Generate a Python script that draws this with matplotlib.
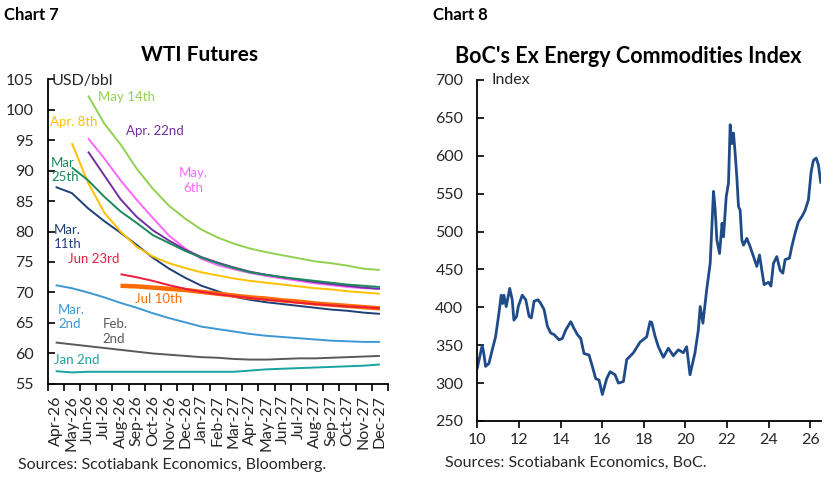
import matplotlib
matplotlib.use('Agg')
import matplotlib.pyplot as plt
import numpy as np

nan = np.nan

# ---- Chart 7: WTI futures curves ----
months = ['Apr-26', 'May-26', 'Jun-26', 'Jul-26', 'Aug-26', 'Sep-26', 'Oct-26',
          'Nov-26', 'Dec-26', 'Jan-27', 'Feb-27', 'Mar-27', 'Apr-27', 'May-27',
          'Jun-27', 'Jul-27', 'Aug-27', 'Sep-27', 'Oct-27', 'Nov-27', 'Dec-27']

jan2 = [57.1, 56.9, 57.0, 57.0, 57.0, 57.0, 57.0, 57.0, 57.0, 57.0, 57.0,
        57.0, 57.2, 57.4, 57.5, 57.6, 57.7, 57.8, 57.9, 58.0, 58.2]
feb2 = [61.8, 61.5, 61.2, 60.9, 60.6, 60.3, 60.0, 59.8, 59.6, 59.4, 59.3,
        59.1, 59.0, 59.0, 59.1, 59.2, 59.2, 59.3, 59.4, 59.5, 59.6]
mar2 = [71.2, 70.7, 70.0, 69.2, 68.3, 67.5, 66.6, 65.8, 65.1, 64.4, 64.0,
        63.6, 63.2, 62.9, 62.7, 62.5, 62.3, 62.1, 62.0, 61.9, 61.9]
mar11 = [87.3, 86.3, 83.8, 81.7, 79.8, 77.8, 75.7, 73.9, 72.4, 71.1, 70.2,
         69.3, 68.8, 68.4, 68.1, 67.8, 67.5, 67.2, 67.0, 66.7, 66.5]
mar25 = [nan, 90.5, 88.4, 85.7, 83.3, 81.4, 79.4, 78.1, 76.8, 75.7, 74.8,
         74.0, 73.3, 72.9, 72.5, 72.2, 71.9, 71.6, 71.3, 71.1, 70.9]
apr8 = [nan, 94.5, 88.0, 83.1, 80.0, 77.5, 75.9, 74.8, 74.0, 73.3, 72.8,
        72.3, 71.9, 71.6, 71.3, 71.0, 70.7, 70.5, 70.2, 70.0, 69.8]
apr22 = [nan, nan, 93.1, 89.2, 85.3, 82.4, 80.2, 78.5, 77.0, 75.8, 74.9,
         74.1, 73.4, 72.9, 72.5, 72.1, 71.7, 71.4, 71.1, 70.8, 70.6]
may6 = [nan, nan, 95.3, 92.0, 88.4, 85.2, 82.2, 79.3, 77.2, 75.5, 74.5,
        73.8, 73.2, 72.7, 72.3, 71.9, 71.5, 71.2, 70.9, 70.7, 70.6]
may14 = [nan, nan, 102.3, 97.7, 94.3, 90.3, 87.0, 84.2, 82.1, 80.3, 79.0,
         78.0, 77.2, 76.6, 76.1, 75.6, 75.1, 74.8, 74.4, 73.9, 73.7]
jun23 = [nan, nan, nan, nan, 73.0, 72.5, 71.9, 71.2, 70.6, 70.1, 69.7,
         69.4, 69.1, 68.8, 68.6, 68.3, 68.1, 67.9, 67.7, 67.6, 67.4]
jul10 = [nan, nan, nan, nan, 71.1, 71.0, 70.8, 70.6, 70.4, 70.1, 69.8,
         69.5, 69.2, 69.0, 68.7, 68.5, 68.2, 68.0, 67.8, 67.6, 67.4]

# ---- Chart 8: BoC ex energy commodities index ----
boc_years = [10.0, 10.12, 10.24, 10.32, 10.40, 10.56, 10.72, 10.88, 11.04, 11.15,
             11.22, 11.28, 11.39, 11.47, 11.56, 11.68, 11.76, 11.89, 11.97, 12.16,
             12.33, 12.49, 12.6, 12.73, 12.92, 13.05, 13.21, 13.37, 13.53, 13.69,
             13.93, 14.09, 14.25, 14.49, 14.65, 14.81, 14.97, 15.13, 15.37, 15.53,
             15.69, 15.85, 16.01, 16.22, 16.38, 16.62, 16.78, 17.02, 17.18, 17.5,
             17.82, 18.14, 18.3, 18.38, 18.54, 18.7, 18.94, 19.18, 19.42, 19.66,
             19.9, 20.06, 20.22, 20.46, 20.62, 20.71, 20.84, 21.03, 21.19, 21.35,
             21.43, 21.51, 21.64, 21.76, 21.83, 21.96, 22.07, 22.15, 22.23, 22.31,
             22.39, 22.47, 22.55, 22.63, 22.71, 22.79, 22.95, 23.11, 23.27, 23.43,
             23.56, 23.67, 23.78, 23.99, 24.11, 24.23, 24.39, 24.55, 24.68, 24.79,
             25.0, 25.11, 25.27, 25.43, 25.6, 25.75, 25.91, 26.04, 26.15, 26.28,
             26.39, 26.5]
boc_index = [320, 335, 350, 338, 322, 326, 344, 361, 392, 416,
             405, 416, 401, 412, 425, 410, 383, 388, 401, 416,
             410, 388, 386, 408, 410, 405, 397, 375, 366, 364,
             357, 359, 370, 381, 372, 364, 359, 339, 337, 322,
             306, 304, 285, 306, 315, 311, 300, 302, 331, 340,
             354, 361, 381, 380, 362, 348, 334, 346, 336, 344,
             340, 348, 311, 340, 370, 401, 379, 425, 458, 553,
             529, 489, 471, 511, 493, 546, 564, 641, 616, 630,
             603, 572, 533, 528, 489, 482, 491, 480, 467, 454,
             469, 449, 430, 433, 428, 458, 467, 449, 445, 463,
             465, 480, 498, 513, 520, 528, 542, 579, 594, 597,
             588, 565]

plt.rcParams['font.family'] = ['Lato', 'DejaVu Sans']
txt = '#262626'

fig = plt.figure(figsize=(8.28, 4.83), dpi=100)
ax1 = fig.add_axes([0.0574, 0.205, 0.4112, 0.6314])
ax2 = fig.add_axes([0.5764, 0.1284, 0.4148, 0.706])

for ax in (ax1, ax2):
    ax.spines['top'].set_visible(False)
    ax.spines['right'].set_visible(False)
    ax.spines['left'].set_linewidth(1.3)
    ax.spines['bottom'].set_linewidth(1.3)
    ax.tick_params(axis='y', direction='in', length=5, width=1.2, pad=10,
                   labelsize=11.5, labelcolor=txt)
    ax.tick_params(axis='x', direction='out', length=5, width=1.2,
                   labelsize=11.5, labelcolor=txt)

# left chart
x = np.arange(len(months))
series = [
    (jan2, '#18A3A0', 1.4),
    (feb2, '#595959', 1.4),
    (mar2, '#3D97D3', 1.4),
    (mar11, '#1F3F78', 1.4),
    (apr8, '#FFC000', 1.4),
    (may14, '#92D050', 1.4),
    (may6, '#FF66FF', 1.4),
    (apr22, '#7030A0', 1.4),
    (mar25, '#1B8A5A', 1.4),
    (jul10, '#FF6A00', 3.2),
    (jun23, '#EC1C3A', 1.4),
]
for vals, col, lw in series:
    ax1.plot(x, vals, color=col, linewidth=lw, solid_capstyle='butt')

ax1.set_xlim(-0.5, 20.5)
ax1.set_ylim(55, 105)
ax1.set_yticks(np.arange(55, 106, 5))
ax1.set_xticks(x)
ax1.set_xticklabels(months, rotation=90)
ax1.tick_params(axis='x', which='major', length=0, pad=8)
ax1.set_xticks(np.arange(-0.5, 21, 1), minor=True)
ax1.tick_params(axis='x', which='minor', direction='out', length=5, width=1.2)

labels = [
    ('USD/bbl', -0.22, 104.75, txt, 'left', 11.5),
    ('May 14th', 2.64, 102.1, '#92D050', 'left', 9.5),
    ('Apr. 8th', -0.35, 98.0, '#FFC000', 'left', 9.5),
    ('Apr. 22nd', 4.35, 96.5, '#7030A0', 'left', 9.5),
    ('Mar\n25th', -0.28, 90.1, '#1B8A5A', 'left', 9.5),
    ('May.\n6th', 8.47, 88.4, '#FF66FF', 'center', 9.5),
    ('Mar.\n11th', -0.14, 79.1, '#1F3F78', 'left', 9.5),
    ('Jun 23rd', 0.77, 75.5, '#EC1C3A', 'left', 9.5),
    ('Jul 10th', 4.9, 68.9, '#FF6A00', 'left', 9.5),
    ('Mar.\n2nd', 0.15, 66.0, '#3D97D3', 'left', 9.5),
    ('Feb.\n2nd', 2.9, 63.6, '#595959', 'left', 9.5),
    ('Jan 2nd', -0.1, 58.9, '#18A3A0', 'left', 9.5),
]
for s, lx, ly, col, ha, fs in labels:
    ax1.text(lx, ly, s, color=col, ha=ha, va='center', fontsize=fs,
             linespacing=1.25)

# right chart
ax2.plot(boc_years, boc_index, color='#1F4C88', linewidth=2.0)
ax2.set_xlim(10, 26.5)
ax2.set_ylim(250, 700)
ax2.set_yticks(np.arange(250, 701, 50))
ax2.set_xticks(np.arange(10, 27, 2))
ax2.tick_params(axis='x', pad=4)
ax2.text(10.7, 700, 'Index', color=txt, ha='left', va='center', fontsize=11.5)

# titles and notes
fig.text(0.005, 0.969, 'Chart 7', fontsize=12, fontweight='bold', va='center')
fig.text(0.523, 0.969, 'Chart 8', fontsize=12, fontweight='bold', va='center')
fig.text(0.2415, 0.886, 'WTI Futures', fontsize=15, fontweight='bold',
         ha='center', va='center')
fig.text(0.7585, 0.884, "BoC's Ex Energy Commodities Index", fontsize=15.5,
         fontweight='bold', ha='center', va='center')
fig.text(0.022, 0.037, 'Sources: Scotiabank Economics, Bloomberg.',
         fontsize=11.5, color=txt, va='center')
fig.text(0.537, 0.041, 'Sources: Scotiabank Economics, BoC.',
         fontsize=11.5, color=txt, va='center')

fig.savefig('out.png', dpi=100)
